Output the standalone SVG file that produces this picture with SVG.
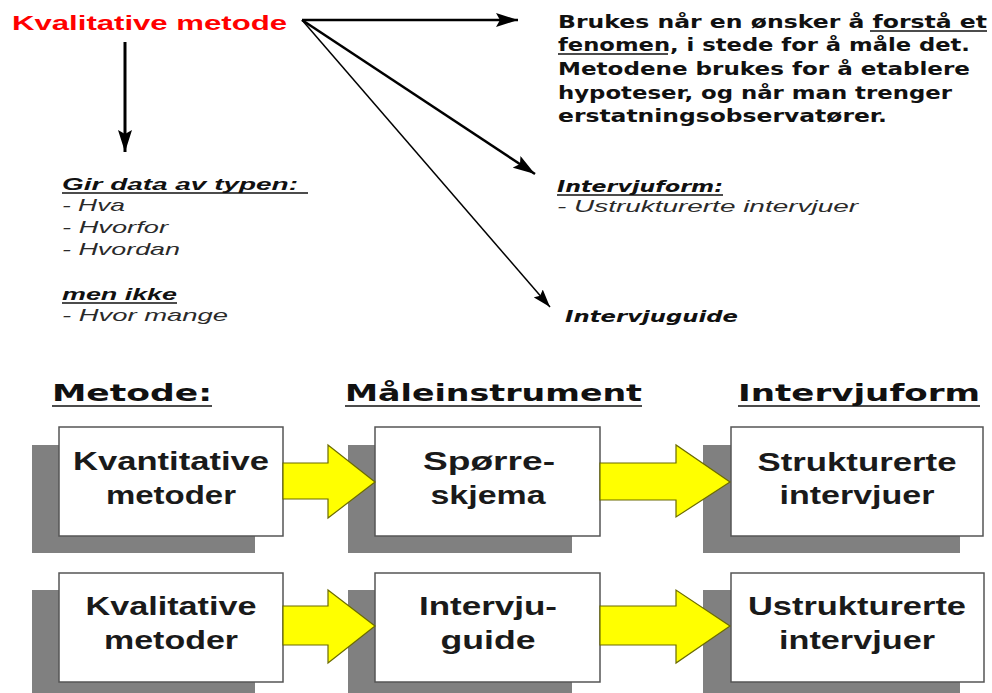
<svg xmlns="http://www.w3.org/2000/svg" width="992" height="693" viewBox="0 0 992 693">
<style>
.title{font-family:"Liberation Sans",Arial,sans-serif;font-weight:bold;font-size:20px;fill:#ff0000}
.desc{font-family:"DejaVu Sans",Verdana,sans-serif;font-weight:bold;font-size:17px;fill:#111}
.list{font-family:"Liberation Sans",Arial,sans-serif;font-style:italic;font-size:17px;fill:#2a2a2a}
.listb{font-family:"Liberation Sans",Arial,sans-serif;font-style:italic;font-weight:bold;font-size:17px;fill:#111}
.heavy{font-family:"DejaVu Sans",Verdana,sans-serif;font-style:italic;font-weight:bold;font-size:16px;fill:#111}
.hdr{font-family:"DejaVu Sans",Verdana,sans-serif;font-weight:bold;font-size:23px;fill:#111}
.box{fill:#ffffff;stroke:#555;stroke-width:1.5}
.shadow{fill:#808080}
.btxt{font-family:"Liberation Sans",Arial,sans-serif;font-weight:bold;font-size:25px;fill:#1a1a1a;text-anchor:middle}
.ul{stroke:#111;stroke-width:1.5}
.con{stroke:#000;fill:none}
.yarrow{fill:#ffff00;stroke:#6b6b00;stroke-width:1.2}
</style>
<defs>
<marker id="ah" markerUnits="userSpaceOnUse" markerWidth="24" markerHeight="14" refX="22" refY="7" orient="auto">
<path d="M0,0 L22,7 L0,14 L4,7 z" fill="#000"/>
</marker>
<marker id="ahs" markerUnits="userSpaceOnUse" markerWidth="20" markerHeight="12" refX="18" refY="6" orient="auto">
<path d="M0,0 L18,6 L0,12 L3,6 z" fill="#000"/>
</marker>
</defs>
<rect width="992" height="693" fill="#ffffff"/>

<g id="title">
<text class="title" x="12" y="30" textLength="275" lengthAdjust="spacingAndGlyphs">Kvalitative metode</text>
</g>

<g id="description">
<text class="desc" x="558" y="28" textLength="429" lengthAdjust="spacingAndGlyphs">Brukes når en ønsker å forstå et</text>
<text class="desc" x="558" y="51" textLength="412" lengthAdjust="spacingAndGlyphs">fenomen, i stede for å måle det.</text>
<text class="desc" x="558" y="75" textLength="412" lengthAdjust="spacingAndGlyphs">Metodene brukes for å etablere</text>
<text class="desc" x="558" y="99" textLength="394" lengthAdjust="spacingAndGlyphs">hypoteser, og når man trenger</text>
<text class="desc" x="558" y="122" textLength="329" lengthAdjust="spacingAndGlyphs">erstatningsobservatører.</text>
<line class="ul" x1="870" y1="31" x2="987" y2="31"/>
<line class="ul" x1="558" y1="54" x2="668" y2="54"/>
</g>

<g id="data-types">
<text class="listb" x="62" y="190" textLength="236" lengthAdjust="spacingAndGlyphs">Gir data av typen:</text>
<line class="ul" x1="62" y1="193" x2="308" y2="193"/>
<text class="list" x="62" y="211" textLength="63" lengthAdjust="spacingAndGlyphs">- Hva</text>
<text class="list" x="62" y="233" textLength="106" lengthAdjust="spacingAndGlyphs">- Hvorfor</text>
<text class="list" x="62" y="255" textLength="118" lengthAdjust="spacingAndGlyphs">- Hvordan</text>
<text class="listb" x="62" y="300" textLength="115" lengthAdjust="spacingAndGlyphs">men ikke</text>
<line class="ul" x1="62" y1="303" x2="177" y2="303"/>
<text class="list" x="62" y="321" textLength="166" lengthAdjust="spacingAndGlyphs">- Hvor mange</text>
</g>

<g id="intervjuform-note">
<text class="heavy" x="557" y="192" textLength="166" lengthAdjust="spacingAndGlyphs">Intervjuform:</text>
<line class="ul" x1="557" y1="195" x2="723" y2="195"/>
<text class="list" x="557" y="212" textLength="301" lengthAdjust="spacingAndGlyphs">- Ustrukturerte intervjuer</text>
</g>

<g id="intervjuguide-note">
<text class="heavy" x="565" y="322" textLength="173" lengthAdjust="spacingAndGlyphs">Intervjuguide</text>
</g>

<g id="headers">
<text class="hdr" x="52" y="401" textLength="160" lengthAdjust="spacingAndGlyphs">Metode:</text>
<line class="ul" stroke-width="2" x1="52" y1="406" x2="212" y2="406"/>
<text class="hdr" x="345" y="401" textLength="297" lengthAdjust="spacingAndGlyphs">Måleinstrument</text>
<line class="ul" stroke-width="2" x1="345" y1="406" x2="642" y2="406"/>
<text class="hdr" x="738" y="401" textLength="242" lengthAdjust="spacingAndGlyphs">Intervjuform</text>
<line class="ul" stroke-width="2" x1="738" y1="406" x2="980" y2="406"/>
</g>

<g id="box-kvantitative">
<rect class="shadow" x="32" y="445" width="223" height="108"/>
<rect class="box" x="59" y="427" width="224" height="109"/>
<text class="btxt" x="171" y="470" textLength="196" lengthAdjust="spacingAndGlyphs">Kvantitative</text>
<text class="btxt" x="171" y="504" textLength="130" lengthAdjust="spacingAndGlyphs">metoder</text>
</g>
<g id="box-sporreskjema">
<rect class="shadow" x="348" y="445" width="224" height="108"/>
<rect class="box" x="375" y="427" width="225" height="109"/>
<text class="btxt" x="489" y="470" textLength="132" lengthAdjust="spacingAndGlyphs">Spørre-</text>
<text class="btxt" x="488" y="504" textLength="115" lengthAdjust="spacingAndGlyphs">skjema</text>
</g>
<g id="box-strukturerte">
<rect class="shadow" x="703" y="445" width="257" height="108"/>
<rect class="box" x="731" y="427" width="252" height="109"/>
<text class="btxt" x="857" y="471" textLength="199" lengthAdjust="spacingAndGlyphs">Strukturerte</text>
<text class="btxt" x="857" y="504" textLength="155" lengthAdjust="spacingAndGlyphs">intervjuer</text>
</g>
<g id="box-kvalitative">
<rect class="shadow" x="32" y="590" width="223" height="103"/>
<rect class="box" x="59" y="573" width="224" height="109"/>
<text class="btxt" x="171" y="615" textLength="171" lengthAdjust="spacingAndGlyphs">Kvalitative</text>
<text class="btxt" x="171" y="649" textLength="134" lengthAdjust="spacingAndGlyphs">metoder</text>
</g>
<g id="box-intervjuguide">
<rect class="shadow" x="348" y="590" width="224" height="103"/>
<rect class="box" x="375" y="573" width="225" height="109"/>
<text class="btxt" x="488" y="615" textLength="138" lengthAdjust="spacingAndGlyphs">Intervju-</text>
<text class="btxt" x="488" y="649" textLength="95" lengthAdjust="spacingAndGlyphs">guide</text>
</g>
<g id="box-ustrukturerte">
<rect class="shadow" x="703" y="590" width="257" height="103"/>
<rect class="box" x="731" y="573" width="253" height="109"/>
<text class="btxt" x="857" y="615" textLength="218" lengthAdjust="spacingAndGlyphs">Ustrukturerte</text>
<text class="btxt" x="857" y="649" textLength="156" lengthAdjust="spacingAndGlyphs">intervjuer</text>
</g>

<g id="connectors">
<line class="con" stroke-width="2.5" x1="302" y1="20" x2="518" y2="20" marker-end="url(#ah)"/>
<line class="con" stroke-width="3" x1="125" y1="42" x2="125" y2="152" marker-end="url(#ah)"/>
<line class="con" stroke-width="2.5" x1="302" y1="20" x2="535" y2="174" marker-end="url(#ah)"/>
<line class="con" stroke-width="1.5" x1="302" y1="20" x2="550" y2="307" marker-end="url(#ahs)"/>
<path class="yarrow" d="M283,463 L328,463 L328,445 L375,482 L328,518 L328,499 L283,499 z"/>
<path class="yarrow" d="M600,463 L676,463 L676,445 L730,482 L676,517 L676,500 L600,500 z"/>
<path class="yarrow" d="M283,606 L328,606 L328,590 L375,626 L328,663 L328,645 L283,645 z"/>
<path class="yarrow" d="M600,606 L676,606 L676,590 L730,626 L676,663 L676,645 L600,645 z"/>
</g>
</svg>
